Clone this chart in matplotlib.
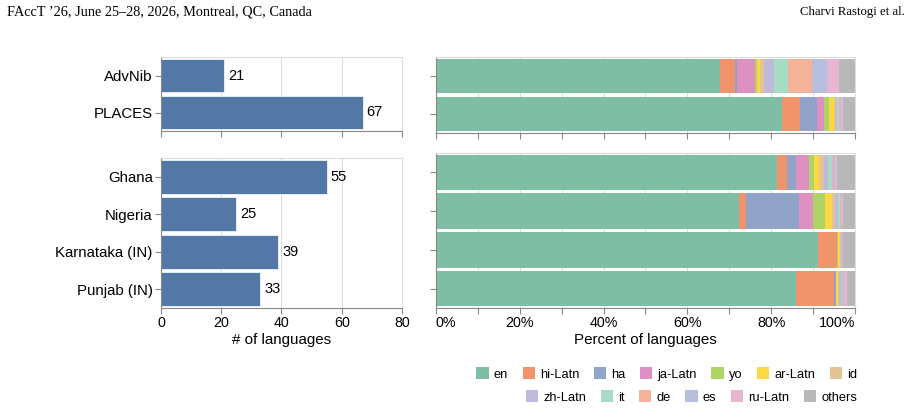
import matplotlib
matplotlib.use("Agg")
import matplotlib.pyplot as plt
from matplotlib.patches import Patch
import numpy as np

plt.rcParams['font.family'] = ['Liberation Sans', 'DejaVu Sans']

# ---- data ----
top_names = ["AdvNib", "PLACES"]
top_counts = [21, 67]
bot_names = ["Ghana", "Nigeria", "Karnataka (IN)", "Punjab (IN)"]
bot_counts = [55, 25, 39, 33]

langs = ["en", "hi-Latn", "ha", "ja-Latn", "yo", "ar-Latn", "id",
         "zh-Latn", "it", "de", "es", "ru-Latn", "others"]
lang_colors = ["#7dbea5", "#f0956b", "#91a3c8", "#de90c3", "#aed465", "#fcd845", "#e2c497",
               "#bdbadb", "#a8dbc5", "#f4b399", "#b5bfdd", "#e8b5d2", "#b8b8b8"]

# percent of languages per dataset, same order as langs
pct_advnib = [67.8, 3.6, 0.5, 4.3, 0.5, 0.6, 0.9, 2.4, 3.5, 5.6, 3.7, 2.8, 3.8]
pct_places = [82.5, 4.4, 4.1, 1.7, 1.2, 1.0, 0.5, 0.4, 0.4, 0.3, 0.2, 0.5, 2.8]
pct_ghana = [81.5, 2.2, 2.2, 3.2, 1.1, 1.2, 1.2, 1.0, 0.8, 0.4, 0.4, 0.6, 4.2]
pct_nigeria = [72.2, 1.9, 12.6, 3.3, 2.8, 1.8, 0.6, 0.8, 0.4, 0.2, 0.2, 0.4, 2.8]
pct_karnataka = [91.2, 4.5, 0.0, 0.0, 0.2, 0.5, 0.2, 0.2, 0.0, 0.2, 0.0, 0.1, 2.9]
pct_punjab = [85.9, 9.1, 0.4, 0.0, 0.0, 0.6, 0.2, 0.4, 0.2, 0.3, 0.3, 0.6, 2.0]

top_pct = [pct_advnib, pct_places]
bot_pct = [pct_ghana, pct_nigeria, pct_karnataka, pct_punjab]

BAR = "#5378a6"
GRID = "#dddddd"
AXC = "#888888"
W, H = 912, 408

fig = plt.figure(figsize=(W / 100, H / 100), dpi=100)


def box(x0, y0, x1, y1):
    return [x0 / W, 1 - y1 / H, (x1 - x0) / W, (y1 - y0) / H]


def style(ax, xticks, show_labels):
    for s in ["top", "right"]:
        ax.spines[s].set_color(GRID)
    for s in ["left", "bottom"]:
        ax.spines[s].set_color(AXC)
    for s in ax.spines.values():
        s.set_linewidth(0.8)
    ax.set_xticks(xticks)
    ax.grid(axis="x", color=GRID, lw=0.8)
    ax.set_axisbelow(True)
    ax.tick_params(axis="both", color=AXC, length=4, width=0.8, pad=2)
    ax.tick_params(axis="y", labelsize=10.8)
    ax.tick_params(axis="x", labelsize=10.3)
    if not show_labels:
        ax.tick_params(axis="x", labelbottom=False)


def left_panel(rect, names, counts, show_labels):
    ax = fig.add_axes(rect)
    y = np.arange(len(names))
    ax.barh(y, counts, height=0.9, color=BAR, edgecolor="white", lw=0.5, zorder=2)
    for yi, c in zip(y, counts):
        ax.text(c + 1.2, yi, str(c), va="center", ha="left", fontsize=10.5)
    ax.set_xlim(0, 80)
    ax.set_ylim(len(names) - 0.5, -0.5)
    ax.set_yticks(y)
    ax.set_yticklabels(names)
    style(ax, [0, 20, 40, 60, 80], show_labels)
    return ax


def right_panel(rect, rows, show_labels):
    ax = fig.add_axes(rect)
    y = np.arange(len(rows))
    data = np.array(rows)
    left = np.zeros(len(rows))
    for j, lang in enumerate(langs):
        ax.barh(y, data[:, j], left=left, height=0.92, color=lang_colors[j], lw=0, zorder=2)
        left += data[:, j]
    ax.set_xlim(0, 100)
    ax.set_ylim(len(rows) - 0.5, -0.5)
    ax.set_yticks(y)
    ax.set_yticklabels([])
    style(ax, np.arange(0, 101, 10), show_labels)
    if show_labels:
        labs = [f"{v}%" if v % 20 == 0 else "" for v in range(0, 101, 10)]
        ax.set_xticklabels(labs)
        tl = ax.get_xticklabels()
        tl[0].set_ha("left")
        tl[-1].set_ha("right")
    return ax


left_panel(box(161, 57, 402, 131), top_names, top_counts, False)
axl = left_panel(box(161, 158, 402, 308), bot_names, bot_counts, True)
axl.set_xlabel("# of languages", fontsize=10.9, labelpad=2)

right_panel(box(436, 57, 855, 133), top_pct, False)
axr = right_panel(box(436, 153, 855, 308), bot_pct, True)
axr.set_xlabel("Percent of languages", fontsize=10.9, labelpad=2)

# legend in two rows, right aligned like the original
handles = [Patch(facecolor=c, edgecolor="none") for c in lang_colors]
kw = dict(frameon=False, fontsize=9.3, handlelength=0.95, handleheight=0.95,
          handletextpad=0.4, columnspacing=1.12, borderaxespad=0, borderpad=0)
fig.legend(handles[:7], langs[:7], ncol=7, loc="center right",
           bbox_to_anchor=(857 / W, 1 - 374 / H), **kw)
fig.legend(handles[7:], langs[7:], ncol=6, loc="center right",
           bbox_to_anchor=(857 / W, 1 - 397 / H), **kw)

# running header of the page
fig.text(7 / W, 1 - 12 / H, "FAccT \u201926, June 25\u201328, 2026, Montreal, QC, Canada",
         family="Liberation Serif", fontsize=10.3, va="center", ha="left")
fig.text(905 / W, 1 - 12 / H, "Charvi Rastogi et al.",
         family="Liberation Serif", fontsize=9.2, va="center", ha="right")

fig.savefig("out.png", dpi=100)
